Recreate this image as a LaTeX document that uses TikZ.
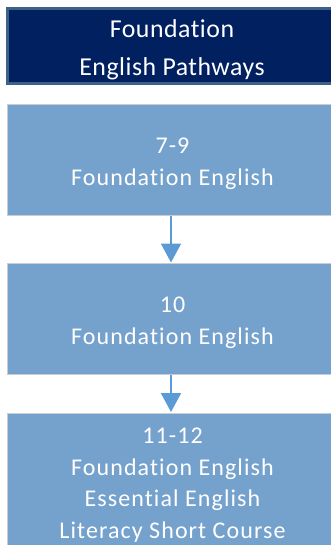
\documentclass[tikz,border=0pt]{standalone}
\usepackage{fontspec}
\setmainfont{Carlito}
\newfontfamily\headfont[LetterSpace=2,Ligatures={NoCommon}]{Carlito}
\newfontfamily\boxfont[LetterSpace=4.5,Ligatures={NoCommon}]{Carlito}
\usetikzlibrary{arrows.meta}
\definecolor{navy}{HTML}{002060}
\definecolor{navyedge}{HTML}{3E6189}
\definecolor{stepfill}{HTML}{75A1CD}
\definecolor{stepedge}{HTML}{C9CDD2}
\definecolor{arrowblue}{HTML}{5B9BD5}
\newcommand{\shifttext}[2]{\raisebox{#1}[\height][\depth]{\begin{tabular}{@{}c@{}}#2\end{tabular}}}
\tikzset{
  headbox/.style={rectangle, fill=navy, draw=navyedge, line width=2.5pt,
    minimum width=329.5pt, minimum height=71.5pt, inner sep=0pt,
    text=white, font=\headfont\fontsize{25.8}{37.5}\selectfont},
  stepbox/.style={rectangle, fill=stepfill, draw=stepedge, line width=1pt,
    minimum width=331pt, inner sep=0pt,
    text=white, font=\boxfont\fontsize{24}{32}\selectfont},
  flow/.style={draw=arrowblue, line width=2pt,
    -{Triangle[width=20pt,length=19pt]}, shorten >=0.5pt}
}
\begin{document}
\begin{tikzpicture}[x=1pt,y=-1pt]
\useasboundingbox (0,0) rectangle (331,545);
\node[headbox] (h) at (172,46) {\shifttext{-3pt}{Foundation\\English Pathways}};
\node[stepbox, minimum height=111pt] (s1) at (172.5,160) {\shifttext{-3pt}{7-9\\Foundation English}};
\node[stepbox, minimum height=111pt] (s2) at (172.5,319) {\shifttext{-3.5pt}{10\\Foundation English}};
\node[stepbox, minimum height=140pt] (s3) at (172.5,483) {\renewcommand{\arraystretch}{0.99}\shifttext{-1.5pt}{11-12\\Foundation English\\Essential English\\Literacy Short Course}};
\draw[flow] ([xshift=-1.5pt]s1.south) -- ([xshift=-1.5pt]s2.north);
\draw[flow] ([xshift=-1.5pt]s2.south) -- ([xshift=-1.5pt]s3.north);
\end{tikzpicture}
\end{document}
